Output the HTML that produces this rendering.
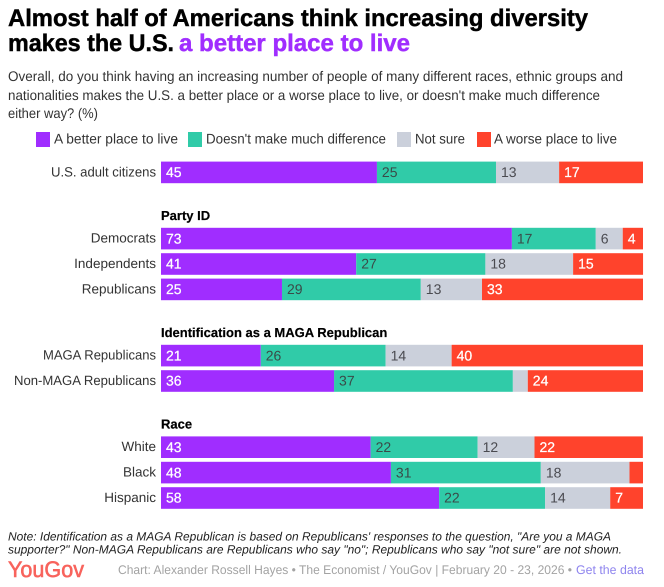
<!DOCTYPE html>
<html lang="en"><head><meta charset="utf-8"><title>YouGov chart</title>
<style>
html,body{margin:0;padding:0;background:#fff}
svg{display:block;font-family:"Liberation Sans",sans-serif;text-rendering:geometricPrecision}
</style></head>
<body>
<svg id="chart" width="664" height="587" viewBox="0 0 664 587" xmlns="http://www.w3.org/2000/svg">
<g font-size="24" font-weight="700" fill="#000" stroke="#000" stroke-width=".45">
<text x="8" y="26" textLength="580" lengthAdjust="spacingAndGlyphs">Almost half of Americans think increasing diversity</text>
<text x="8" y="51" textLength="166" lengthAdjust="spacingAndGlyphs">makes the U.S.</text>
<text x="179" y="51" textLength="231" lengthAdjust="spacingAndGlyphs" fill="#a02dff" stroke="#a02dff">a better place to live</text>
</g>
<g font-size="14" fill="#333">
<text x="8" y="81" textLength="615" lengthAdjust="spacingAndGlyphs">Overall, do you think having an increasing number of people of many different races, ethnic groups and</text>
<text x="8" y="100" textLength="592" lengthAdjust="spacingAndGlyphs">nationalities makes the U.S. a better place or a worse place to live, or doesn't make much difference</text>
<text x="8" y="118" textLength="90" lengthAdjust="spacingAndGlyphs">either way? (%)</text>
</g>
<g id="legend" font-size="14" fill="#333"></g>
<g id="rows"></g>
<g font-size="12" font-style="italic" fill="#222">
<text x="8" y="540.5" textLength="603" lengthAdjust="spacingAndGlyphs">Note: Identification as a MAGA Republican is based on Republicans' responses to the question, "Are you a MAGA</text>
<text x="8" y="553.5" textLength="614" lengthAdjust="spacingAndGlyphs">supporter?" Non-MAGA Republicans are Republicans who say "no"; Republicans who say "not sure" are not shown.</text>
</g>
<text x="8" y="577" font-size="22.5" font-weight="400" fill="#f8635c" stroke="#f8635c" stroke-width=".6" textLength="76" lengthAdjust="spacingAndGlyphs">YouGov</text>
<text x="118" y="574" font-size="12.5" fill="#a3a3a3" textLength="454" lengthAdjust="spacingAndGlyphs">Chart: Alexander Rossell Hayes • The Economist / YouGov | February 20 - 23, 2026 •</text>
<text x="576" y="574" font-size="12.5" fill="#8f85ee" textLength="68" lengthAdjust="spacingAndGlyphs">Get the data</text>
</svg>
<script>
var categories = ["U.S. adult citizens","Democrats","Independents","Republicans","MAGA Republicans","Non-MAGA Republicans","White","Black","Hispanic"];
var groupOfRow = [0,1,1,1,2,2,3,3,3];
var groupTitles = ["","Party ID","Identification as a MAGA Republican","Race"];
var seriesNames = ["A better place to live","Doesn't make much difference","Not sure","A worse place to live"];
var betterPlace = [44.8,72.8,40.5,25.1,20.7,35.9,43.49,47.7,57.7];
var noDifference = [24.7,17.4,26.8,28.8,25.9,37.1,22.2,31.1,22.0];
var notSure = [13.1,5.6,18.2,12.7,13.7,3.1,11.8,18.4,13.5];
var worsePlace = [17.4,4.2,14.51,33.4,39.7,23.9,22.49,2.8,6.8];
var series = [betterPlace,noDifference,notSure,worsePlace];
var seriesColors = ["#a02dff","#30cba8","#cbd0db","#ff432c"];
var labelColors = ["#fff","#3a4a48","#4a4a50","#fff"];

var NS = "http://www.w3.org/2000/svg";
function xScale(v){ return 161 + v * 4.82; }
function rowTop(i){ return 161.6 + 25.4 * i + 40.8 * groupOfRow[i]; }
var BAR_H = 21.6;
function make(parent, tag, attrs, txt){
  var el = document.createElementNS(NS, tag);
  for (var k in attrs) el.setAttribute(k, attrs[k]);
  if (txt !== undefined) el.textContent = txt;
  parent.appendChild(el);
  return el;
}
var legend = document.getElementById("legend");
var legendSwatchX = [36,188,397,477];
var legendTextWidths = [124,180,50,123];
seriesNames.forEach(function(name, s){
  var sw = make(legend, "rect", {x:legendSwatchX[s], y:132, width:14, height:15, fill:seriesColors[s]});
  
  
  var t = make(legend, "text", {x:legendSwatchX[s]+(s===3?17:18), y:143.5, textLength:legendTextWidths[s], lengthAdjust:"spacingAndGlyphs"}, name);
  
  
});
var rows = document.getElementById("rows");
groupTitles.forEach(function(title, g){
  if (!title) return;
  var first = groupOfRow.indexOf(g);
  var h = make(rows, "text", {x:161, y:rowTop(first)-8, "font-size":13, "font-weight":700, fill:"#000", stroke:"#000", "stroke-width":".2"}, title);
  
  
});
var labelFit = {"U.S. adult citizens":105,"MAGA Republicans":113,"Non-MAGA Republicans":142};
categories.forEach(function(cat, i){
  var y = rowTop(i);
  var lAttrs = {x:156, y:y+14.8, "text-anchor":"end", "font-size":13.5, fill:"#333"};
  if (labelFit[cat]) { lAttrs.textLength = labelFit[cat]; lAttrs.lengthAdjust = "spacingAndGlyphs"; }
  var lab = make(rows, "text", lAttrs, cat);
  
  
  var cum = 0;
  series.forEach(function(vals, s){
    var v = vals[i];
    var x0 = xScale(cum), x1 = xScale(cum + v);
    var r = make(rows, "rect", {x:x0, y:y, width:x1-x0, height:BAR_H, fill:seriesColors[s]});
    
    
    if (v >= 4) {
      var tAttrs = {x:x0+5, y:y+15.5, "font-size":14, fill:labelColors[s]};
      if (s===0||s===3) { tAttrs.stroke = "#fff"; tAttrs["stroke-width"] = ".25"; }
      var t = make(rows, "text", tAttrs, String(Math.round(v)));
      
      
    }
    cum += v;
  });
});
</script>
</body></html>
